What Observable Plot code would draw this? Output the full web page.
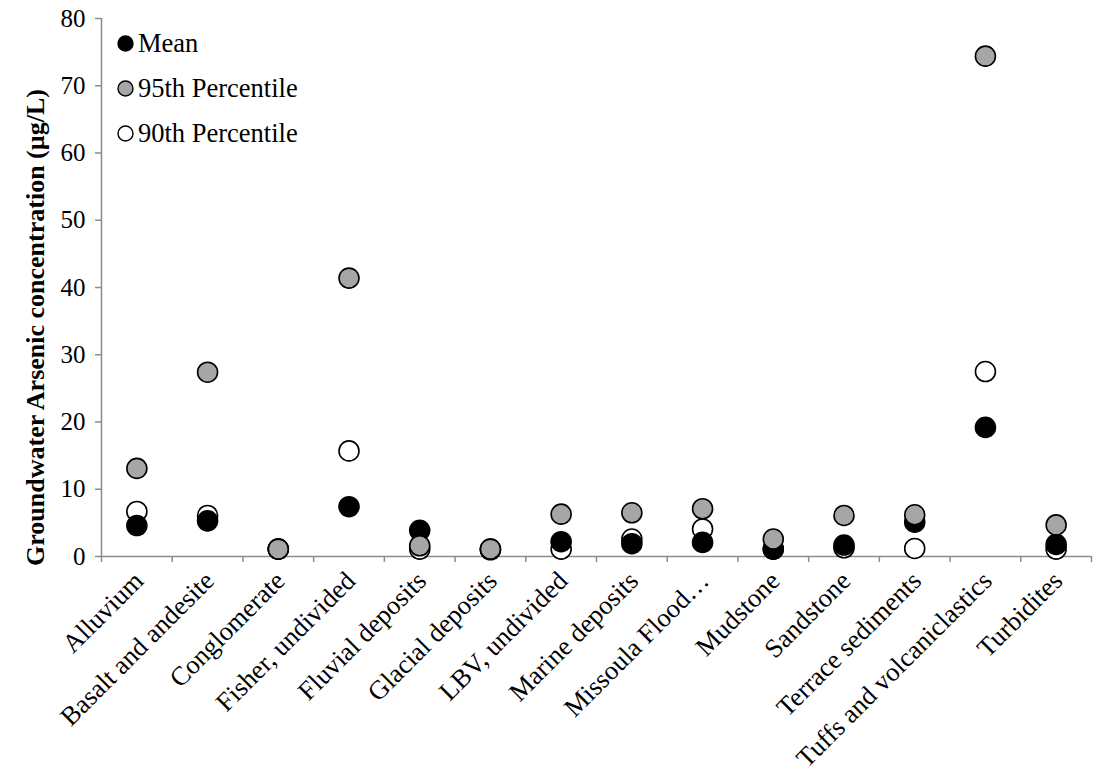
<!DOCTYPE html>
<html><head><meta charset="utf-8">
<script src="https://cdn.jsdelivr.net/npm/d3@7"></script>
<script src="https://cdn.jsdelivr.net/npm/@observablehq/plot@0.6"></script>
<style>
body{margin:0;background:#fff}
#wrap{position:relative;width:1094px;height:772px;overflow:hidden}
.legend{position:absolute;left:117px;top:21px;font-family:"Liberation Serif",serif;font-size:26.5px;color:#000}
.legend div{display:flex;align-items:center;height:45px}
.legend svg{margin-right:4px}
</style>
</head><body><div id="wrap"></div>
<script>
const categories = ["Alluvium","Basalt and andesite","Conglomerate","Fisher, undivided","Fluvial deposits","Glacial deposits","LBV, undivided","Marine deposits","Missoula Flood…","Mudstone","Sandstone","Terrace sediments","Tuffs and volcaniclastics","Turbidites"];
const mean = [4.6, 5.3, 1.1, 7.4, 3.9, 1.1, 2.2, 1.9, 2.1, 1.1, 1.7, 5.1, 19.2, 1.8];
const p95  = [13.1, 27.4, 1.1, 41.4, 1.6, 1.1, 6.3, 6.5, 7.1, 2.6, 6.1, 6.2, 74.4, 4.7];
const p90  = [6.7, 6.1, 1.1, 15.7, 1.1, 1.0, 1.1, 2.6, 4.1, 1.1, 1.3, 1.2, 27.5, 1.1];
const seriesNames = ["90th Percentile","Mean","95th Percentile"];
const seriesFill = {"Mean":"#000000","95th Percentile":"#a6a6a6","90th Percentile":"#ffffff"};
const legendOrder = ["Mean","95th Percentile","90th Percentile"];
const yTicks = [0,10,20,30,40,50,60,70,80];
const yLabel = "Groundwater Arsenic concentration (µg/L)";

const valuesBy = {"Mean":mean,"95th Percentile":p95,"90th Percentile":p90};
const rows = [];
for (const s of seriesNames) categories.forEach((c,i)=>rows.push({series:s, pos:i+0.5, cat:c, value:valuesBy[s][i]}));
const centers = categories.map((c,i)=>i+0.5);
const bounds = d3.range(0, categories.length+1);

const font = "Liberation Serif, Times New Roman, serif";
const axisGray = "#8c8c8c";

const chart = Plot.plot({
  width:1094, height:772,
  marginLeft:101, marginRight:3, marginTop:18, marginBottom:216,
  style:{fontFamily:font, fontSize:"25px", color:"#000", background:"#fff"},
  x:{type:"linear", domain:[0, categories.length]},
  y:{domain:[0,80]},
  marks:[
    Plot.ruleX([0], {stroke:axisGray, strokeWidth:1.5}),
    Plot.ruleY([0], {stroke:axisGray, strokeWidth:1.5}),
    Plot.axisY({ticks:yTicks, tickSize:6, tickPadding:10, stroke:axisGray, strokeWidth:1.5, fontSize:25, label:null}),
    Plot.axisX({ticks:bounds, tickSize:6, stroke:axisGray, strokeWidth:1.5, tickFormat:()=>"", label:null}),
    Plot.axisX({ticks:centers, tickSize:0, tickPadding:20, tickRotate:-45, textAnchor:"end", fontSize:26.5,
      tickFormat:d=>categories[Math.floor(d)], label:null, dx:2}),
    Plot.text([yLabel], {frameAnchor:"left", textAnchor:"middle", rotate:-90, dx:-66, dy:40, fontWeight:"bold", fontSize:26}),
    Plot.dot(rows, {x:"pos", y:"value", r:10, fill:d=>seriesFill[d.series], stroke:"#000", strokeWidth:1.6})
  ]
});
const wrap = document.getElementById("wrap");
wrap.appendChild(chart);
const leg = document.createElement("div");
leg.className = "legend";
for (const s of legendOrder) {
  const row = document.createElement("div");
  row.innerHTML = `<svg width="17" height="17"><circle cx="8.5" cy="8.5" r="7.5" fill="${seriesFill[s]}" stroke="#000" stroke-width="1.4"/></svg><span>${s}</span>`;
  leg.appendChild(row);
}
wrap.appendChild(leg);
</script>
</body></html>
